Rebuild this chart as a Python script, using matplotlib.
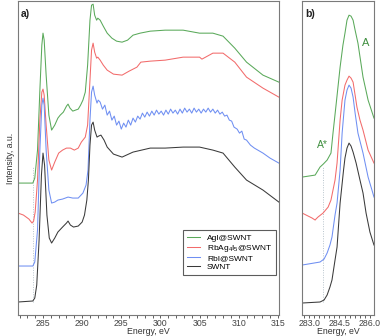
#!/usr/bin/env python
import matplotlib
matplotlib.use("Agg")
import matplotlib.pyplot as plt
from matplotlib.ticker import MultipleLocator

plt.rcParams["font.family"] = ["Liberation Sans", "DejaVu Sans"]
plt.rcParams["mathtext.default"] = "regular"

# ---- panel a) wide range C K-edge spectra (offset, arbitrary units) ----
e_agi = [281.8, 283.7, 283.95, 284.3, 284.6, 284.85, 285.0, 285.15, 285.4, 285.75, 286.1, 286.5, 286.9,
         287.2, 287.6, 288.0, 288.2, 288.45, 288.8, 289.5, 289.8, 290.1, 290.4, 290.7, 291.0, 291.2,
         291.4, 291.6, 291.85, 292.0, 292.3, 292.7, 293.2, 293.8, 294.4, 295.1, 295.8, 296.5, 297.4,
         298.7, 300.6, 302.9, 305.0, 306.7, 308.0, 309.5, 311.0, 313.1, 315.13]
i_agi = [132, 132, 137, 165, 225, 270, 282, 275, 240, 200, 185, 190, 197,
         200, 203, 209, 211, 207, 204, 206, 210, 215, 223, 250, 295, 310,
         311, 300, 295, 297, 295, 289, 282, 277, 274, 273, 275, 280, 282,
         284, 285, 285, 282, 282, 279, 267, 253, 240, 233]

e_rbag = [281.8, 282.5, 283.2, 283.6, 283.8, 284.0, 284.3, 284.6, 284.85, 285.0, 285.15, 285.4, 285.75,
          286.1, 286.5, 287.0, 287.5, 288.0, 288.5, 289.0, 289.5, 289.9, 290.4, 290.7, 291.0, 291.2,
          291.4, 291.6, 291.85, 292.0, 292.3, 292.7, 293.2, 294.0, 295.1, 296.0, 297.0, 297.5, 298.7,
          300.6, 302.9, 305.0, 305.3, 306.7, 308.0, 309.5, 311.0, 313.1, 315.13]
i_rbag = [102, 100, 96, 92, 94, 103, 135, 195, 223, 226, 220, 190, 155,
          145, 153, 162, 165, 167, 167, 165, 167, 173, 178, 190, 235, 265,
          272, 263, 257, 258, 255, 250, 245, 241, 240, 244, 248, 253, 254,
          255, 258, 258, 256, 262, 262, 253, 238, 227, 218]

e_rbi = [281.8, 283.7, 283.95, 284.3, 284.6, 284.85, 285.0, 285.15, 285.4, 285.75, 286.1, 286.5, 286.9,
         287.5, 288.2, 288.8, 289.5, 290.1, 290.5, 290.75, 291.0, 291.2, 291.4, 291.6, 291.9, 292.05,
         292.3, 292.6, 292.9, 293.2, 293.5, 293.8, 294.1, 294.4, 294.7, 295.0, 295.3, 295.6, 295.9,
         296.2, 296.5, 296.8, 297.1, 297.4, 297.7, 298.0, 298.3, 298.6, 298.9, 299.2, 299.5, 299.8,
         300.1, 300.4, 300.7, 301.0, 301.3, 301.6, 301.9, 302.2, 302.5, 302.8, 303.1, 303.4, 303.7,
         304.0, 304.3, 304.6, 304.9, 305.2, 305.5, 305.8, 306.1, 306.4, 306.7, 307.0, 307.3, 307.6,
         307.9, 308.2, 308.5, 308.8, 309.1, 309.4, 309.8, 310.1, 310.4, 310.7, 311.0, 311.5, 312.0,
         313.1, 314.0, 315.13]
i_rbi = [49, 49, 53, 85, 165, 210, 217, 210, 165, 125, 112, 113, 115,
         116, 118, 117, 117, 122, 130, 145, 195, 223, 229, 220, 212, 215,
         213, 206, 210, 200, 204, 195, 199, 190, 194, 186, 192, 188, 195,
         190, 197, 193, 199, 196, 202, 198, 203, 199, 204, 200, 205, 201,
         204, 200, 205, 201, 206, 202, 205, 201, 206, 202, 207, 203, 206,
         202, 207, 203, 206, 202, 206, 203, 207, 203, 206, 202, 205, 201,
         203, 199, 200, 195, 194, 188, 186, 182, 184, 176, 175, 170, 167,
         162, 157, 152]

e_swnt = [281.8, 283.7, 283.95, 284.2, 284.5, 284.8, 285.0, 285.2, 285.5, 285.8, 286.1, 286.5, 286.9,
          287.5, 288.0, 288.2, 288.5, 288.9, 289.5, 290.0, 290.3, 290.6, 290.8, 291.0, 291.2, 291.4,
          291.6, 291.9, 292.1, 292.4, 292.8, 293.2, 294.0, 295.1, 296.5, 298.7, 300.6, 302.9, 305.0,
          306.7, 308.0, 309.5, 311.0, 313.1, 315.13]
i_swnt = [13, 14, 17, 30, 75, 140, 162, 150, 100, 77, 72, 77, 83,
          88, 92, 94, 90, 88, 89, 93, 100, 115, 135, 170, 190, 193,
          185, 178, 179, 180, 175, 168, 161, 158, 163, 167, 167, 168, 168,
          165, 162, 148, 135, 125, 113]

# ---- panel b) zoom on the pi* region ----
eb_agi = [282.66, 283.3, 283.54, 283.7, 283.89, 284.08, 284.18, 284.33, 284.53, 284.67, 284.77, 284.87,
          284.97, 285.07, 285.17, 285.27, 285.41, 285.66, 285.91, 286.2]
ib_agi = [138, 140, 148, 151, 155, 162, 182, 210, 248, 270, 282, 295,
          300, 299, 295, 285, 272, 238, 215, 197]

eb_rbag = [282.66, 283.15, 283.3, 283.34, 283.44, 283.69, 283.94, 284.08, 284.18, 284.28, 284.38, 284.53,
           284.63, 284.77, 284.87, 284.97, 285.07, 285.17, 285.27, 285.36, 285.51, 285.66, 285.91, 286.2]
ib_rbag = [102, 97, 95, 96, 98, 102, 108, 115, 125, 135, 152, 195,
           215, 230, 235, 239, 237, 233, 220, 208, 195, 185, 165, 152]

eb_rbi = [282.66, 283.54, 283.74, 283.89, 284.03, 284.13, 284.28, 284.38, 284.53, 284.63, 284.77, 284.87,
          284.97, 285.07, 285.17, 285.27, 285.41, 285.66, 285.91, 286.1, 286.2]
ib_rbi = [50, 53, 56, 62, 70, 78, 100, 112, 145, 182, 215, 225,
          230, 227, 218, 202, 182, 162, 138, 125, 118]

eb_swnt = [282.66, 283.54, 283.74, 283.89, 284.03, 284.13, 284.28, 284.38, 284.53, 284.7, 284.77, 284.87,
           284.97, 285.07, 285.17, 285.32, 285.51, 285.66, 285.81, 286.0, 286.2]
ib_swnt = [12, 13, 15, 20, 28, 35, 55, 68, 112, 145, 157, 167,
           172, 169, 163, 152, 135, 122, 102, 83, 70]

labels = ["AgI@SWNT", "RbAg$_4$I$_5$@SWNT", "RbI@SWNT", "SWNT"]
colors = ["#5aa95a", "#f26b6b", "#6f8ff2", "#3a3a3a"]

fig = plt.figure(figsize=(3.82, 3.36), dpi=100)
ax1 = fig.add_axes([0.047, 0.0625, 0.683, 0.934])
ax2 = fig.add_axes([0.791, 0.0625, 0.188, 0.934])

series_a = [(e_agi, i_agi), (e_rbag, i_rbag), (e_rbi, i_rbi), (e_swnt, i_swnt)]
series_b = [(eb_agi, ib_agi), (eb_rbag, ib_rbag), (eb_rbi, ib_rbi), (eb_swnt, ib_swnt)]

for (e, i), lab, c in zip(series_a, labels, colors):
    ax1.plot(e, i, color=c, lw=0.75, label=lab)
for (e, i), c in zip(series_b, colors):
    ax2.plot(e, i, color=c, lw=0.75)

# position of the A* feature
for ax in (ax1, ax2):
    ax.vlines(283.68, 13, 148, colors="#b8c4cc", linestyles=(0, (1, 1.5)), lw=0.7, zorder=0)

ax1.set_xlim(281.8, 315.13)
ax2.set_xlim(282.66, 286.2)
for ax in (ax1, ax2):
    ax.set_ylim(0, 314)
    ax.set_yticks([])
    for s in ax.spines.values():
        s.set_color("#7a7a7a")
        s.set_linewidth(0.8)
    ax.tick_params(axis="x", which="both", direction="out", labelsize=6.3, colors="#444444",
                   length=2.5, width=0.6, pad=0.5)
    ax.set_xlabel("Energy, eV", fontsize=6.3, color="#333333", labelpad=-1)

ax1.xaxis.set_major_locator(MultipleLocator(5))
ax1.xaxis.set_minor_locator(MultipleLocator(1))
ax2.set_xticks([283.0, 284.5, 286.0])
ax2.set_xticklabels(["283.0", "284.5", "286.0"])
ax2.xaxis.set_minor_locator(MultipleLocator(0.25))

ax1.set_ylabel("Intensity, a.u.", fontsize=6.3, color="#333333", labelpad=2)

ax1.text(0.012, 0.96, "a)", transform=ax1.transAxes, fontsize=7.5, fontweight="bold",
         color="#222222", va="center")
ax2.text(0.04, 0.96, "b)", transform=ax2.transAxes, fontsize=7.5, fontweight="bold",
         color="#222222", va="center")
ax2.text(285.78, 272, "A", fontsize=8, color="#3f8f3f", ha="center", va="center")
ax2.text(283.64, 170, "A*", fontsize=7.5, color="#3f8f3f", ha="center", va="center")

leg = ax1.legend(loc="lower left", bbox_to_anchor=(0.632, 0.127), borderaxespad=0,
                 fontsize=6, frameon=True, fancybox=False, handlelength=1.6,
                 labelspacing=0.1, borderpad=0.5, handletextpad=0.8)
leg.get_frame().set_edgecolor("#333333")
leg.get_frame().set_linewidth(0.8)

plt.savefig("out.png", dpi=100)
print("Plot is done.")
